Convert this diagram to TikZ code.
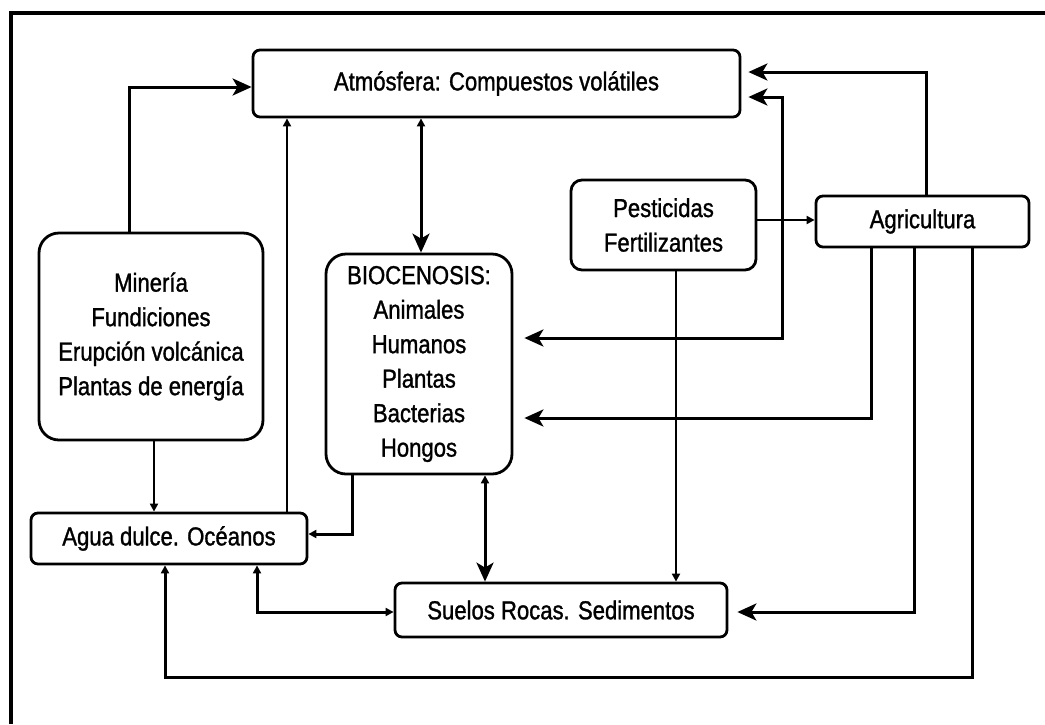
\documentclass[tikz,border=0pt]{standalone}
\usepackage{fontspec}
\setmainfont[FakeStretch=0.85,UprightFeatures={FakeBold=1.2}]{Liberation Sans}
\usetikzlibrary{arrows.meta}
\tikzset{
  bigtip/.tip={Stealth[length=19pt,width=17pt,inset=5pt]},
  smalltip/.tip={Triangle[length=8pt,width=8pt]},
  box/.style={draw,line width=2.8pt,rounded corners=7pt,inner sep=0pt,align=center,
    font=\fontsize{26}{34.5}\selectfont},
  bigbox/.style={box,rounded corners=20pt},
  conn/.style={line width=3pt},
  thin/.style={line width=2.4pt}
}
\begin{document}
\begin{tikzpicture}[x=1pt,y=-1pt]
\useasboundingbox (0,0) rectangle (1045,724);
\draw[line width=3.5pt] (11,724) -- (11,13) -- (1045,13);

\node[box,minimum width=487pt,minimum height=67pt] (atm) at (496.5,83.5) {Atmósfera: Compuestos volátiles};
\node[bigbox,minimum width=224pt,minimum height=207pt] (min) at (151,336.5) {Minería\\Fundiciones\\Erupción volcánica\\Plantas de energía};
\node[bigbox,minimum width=186pt,minimum height=220pt] (bio) at (419,364) {BIOCENOSIS:\\Animales\\Humanos\\Plantas\\Bacterias\\Hongos};
\node[box,rounded corners=11pt,minimum width=185pt,minimum height=90pt] (pest) at (663.5,225) {Pesticidas\\Fertilizantes};
\node[box,minimum width=213pt,minimum height=51pt] (agri) at (922.5,221.5) {Agricultura};
\node[box,minimum width=276pt,minimum height=51pt] (agua) at (169,538.5) {Agua dulce. Océanos};
\node[box,minimum width=332pt,minimum height=54pt] (suelos) at (561,610) {Suelos Rocas. Sedimentos};

\coordinate (k1) at (129,87);
\coordinate (k2) at (287,0);
\coordinate (k3) at (421,0);
\coordinate (k4) at (926,72);
\coordinate (k5a) at (782,97);
\coordinate (k5b) at (782,338);
\coordinate (k6) at (0,220);
\coordinate (k7) at (676,0);
\coordinate (k8) at (871,418);
\coordinate (k9) at (914,612);
\coordinate (k10a) at (972,677);
\coordinate (k10b) at (165,677);
\coordinate (k11) at (352,534);
\coordinate (k12) at (154,0);
\coordinate (k13) at (485,0);
\coordinate (k14) at (257,612);

\draw[conn,-bigtip] (min.north -| k1) |- (atm.west |- k1);
\draw[thin,-smalltip] (agua.north -| k2) -- (atm.south -| k2);
\draw[conn,smalltip-bigtip] (atm.south -| k3) -- (bio.north -| k3);
\draw[conn,-bigtip,shorten >=7pt] (agri.north -| k4) |- (atm.east |- k4);
\draw[conn,bigtip-bigtip,shorten <=7pt,shorten >=11pt] (atm.east |- k5a) -- (k5a) -- (k5b) -- (bio.east |- k5b);
\draw[thin,-smalltip] (pest.east |- k6) -- (agri.west |- k6);
\draw[thin,-smalltip] (pest.south -| k7) -- (suelos.north -| k7);
\draw[conn,-bigtip,shorten >=11pt] (agri.south -| k8) |- (bio.east |- k8);
\draw[conn,-bigtip,shorten >=9pt] (agri.south -| k9) |- (suelos.east |- k9);
\draw[conn,-smalltip] (agri.south -| k10a) -- (k10a) -- (k10b) -- (agua.south -| k10b);
\draw[conn,-smalltip] (bio.south -| k11) |- (agua.east |- k11);
\draw[thin,-smalltip] (min.south -| k12) -- (agua.north -| k12);
\draw[conn,smalltip-bigtip] (bio.south -| k13) -- (suelos.north -| k13);
\draw[conn,smalltip-smalltip] (agua.south -| k14) |- (suelos.west |- k14);
\end{tikzpicture}
\end{document}
